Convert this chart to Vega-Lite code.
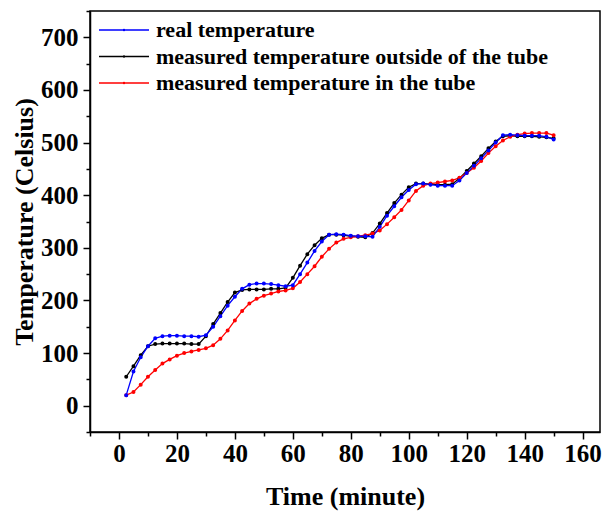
{
  "$schema": "https://vega.github.io/schema/vega-lite/v6.json",
  "width": 510,
  "height": 421,
  "autosize": {"type": "none"},
  "padding": {"left": 90, "top": 11, "right": 6, "bottom": 82},
  "background": "white",
  "config": {
    "view": {"stroke": "black", "strokeWidth": 1.5},
    "font": "Liberation Serif",
    "axis": {
      "grid": false,
      "domainColor": "black",
      "domainWidth": 1.5,
      "tickColor": "black",
      "tickWidth": 1.5,
      "labelFont": "Liberation Serif",
      "labelFontWeight": "bold",
      "labelFontSize": 25,
      "labelColor": "black",
      "titleFont": "Liberation Serif",
      "titleFontWeight": "bold",
      "titleFontSize": 26,
      "titleColor": "black"
    }
  },
  "data": {
    "values": [
      {"t": 2.5, "real temperature": 20, "measured temperature outside of the tube": 55, "measured temperature in the tube": 20},
      {"t": 5, "real temperature": 65, "measured temperature outside of the tube": 75, "measured temperature in the tube": 26},
      {"t": 7.5, "real temperature": 92, "measured temperature outside of the tube": 96, "measured temperature in the tube": 40},
      {"t": 10, "real temperature": 113, "measured temperature outside of the tube": 113, "measured temperature in the tube": 55},
      {"t": 12.5, "real temperature": 128, "measured temperature outside of the tube": 117, "measured temperature in the tube": 68},
      {"t": 15, "real temperature": 132, "measured temperature outside of the tube": 118, "measured temperature in the tube": 80},
      {"t": 17.5, "real temperature": 133, "measured temperature outside of the tube": 118, "measured temperature in the tube": 88},
      {"t": 20, "real temperature": 133, "measured temperature outside of the tube": 118, "measured temperature in the tube": 95},
      {"t": 22.5, "real temperature": 132, "measured temperature outside of the tube": 118, "measured temperature in the tube": 100},
      {"t": 25, "real temperature": 132, "measured temperature outside of the tube": 117, "measured temperature in the tube": 103},
      {"t": 27.5, "real temperature": 131, "measured temperature outside of the tube": 117, "measured temperature in the tube": 106},
      {"t": 30, "real temperature": 134, "measured temperature outside of the tube": 132, "measured temperature in the tube": 109},
      {"t": 32.5, "real temperature": 150, "measured temperature outside of the tube": 155, "measured temperature in the tube": 115},
      {"t": 35, "real temperature": 170, "measured temperature outside of the tube": 176, "measured temperature in the tube": 127},
      {"t": 37.5, "real temperature": 190, "measured temperature outside of the tube": 197, "measured temperature in the tube": 143},
      {"t": 40, "real temperature": 207, "measured temperature outside of the tube": 215, "measured temperature in the tube": 162},
      {"t": 42.5, "real temperature": 222, "measured temperature outside of the tube": 220, "measured temperature in the tube": 180},
      {"t": 45, "real temperature": 230, "measured temperature outside of the tube": 221, "measured temperature in the tube": 194},
      {"t": 47.5, "real temperature": 232, "measured temperature outside of the tube": 221, "measured temperature in the tube": 203},
      {"t": 50, "real temperature": 232, "measured temperature outside of the tube": 221, "measured temperature in the tube": 209},
      {"t": 52.5, "real temperature": 231, "measured temperature outside of the tube": 222, "measured temperature in the tube": 213},
      {"t": 55, "real temperature": 229, "measured temperature outside of the tube": 222, "measured temperature in the tube": 217},
      {"t": 57.5, "real temperature": 227, "measured temperature outside of the tube": 224, "measured temperature in the tube": 219},
      {"t": 60, "real temperature": 229, "measured temperature outside of the tube": 243, "measured temperature in the tube": 223},
      {"t": 62.5, "real temperature": 250, "measured temperature outside of the tube": 266, "measured temperature in the tube": 235},
      {"t": 65, "real temperature": 272, "measured temperature outside of the tube": 288, "measured temperature in the tube": 250},
      {"t": 67.5, "real temperature": 294, "measured temperature outside of the tube": 305, "measured temperature in the tube": 265},
      {"t": 70, "real temperature": 312, "measured temperature outside of the tube": 318, "measured temperature in the tube": 283},
      {"t": 72.5, "real temperature": 325, "measured temperature outside of the tube": 325, "measured temperature in the tube": 298},
      {"t": 75, "real temperature": 326, "measured temperature outside of the tube": 325, "measured temperature in the tube": 310},
      {"t": 77.5, "real temperature": 325, "measured temperature outside of the tube": 324, "measured temperature in the tube": 317},
      {"t": 80, "real temperature": 323, "measured temperature outside of the tube": 322, "measured temperature in the tube": 320},
      {"t": 82.5, "real temperature": 322, "measured temperature outside of the tube": 321, "measured temperature in the tube": 322},
      {"t": 85, "real temperature": 322, "measured temperature outside of the tube": 320, "measured temperature in the tube": 324},
      {"t": 87.5, "real temperature": 321, "measured temperature outside of the tube": 328, "measured temperature in the tube": 327},
      {"t": 90, "real temperature": 340, "measured temperature outside of the tube": 346, "measured temperature in the tube": 333},
      {"t": 92.5, "real temperature": 361, "measured temperature outside of the tube": 366, "measured temperature in the tube": 345},
      {"t": 95, "real temperature": 379, "measured temperature outside of the tube": 385, "measured temperature in the tube": 358},
      {"t": 97.5, "real temperature": 396, "measured temperature outside of the tube": 401, "measured temperature in the tube": 372},
      {"t": 100, "real temperature": 410, "measured temperature outside of the tube": 415, "measured temperature in the tube": 390},
      {"t": 102.5, "real temperature": 421, "measured temperature outside of the tube": 422, "measured temperature in the tube": 408},
      {"t": 105, "real temperature": 422, "measured temperature outside of the tube": 422, "measured temperature in the tube": 418},
      {"t": 107.5, "real temperature": 420, "measured temperature outside of the tube": 421, "measured temperature in the tube": 422},
      {"t": 110, "real temperature": 418, "measured temperature outside of the tube": 420, "measured temperature in the tube": 424},
      {"t": 112.5, "real temperature": 418, "measured temperature outside of the tube": 420, "measured temperature in the tube": 426},
      {"t": 115, "real temperature": 418, "measured temperature outside of the tube": 421, "measured temperature in the tube": 428},
      {"t": 117.5, "real temperature": 428, "measured temperature outside of the tube": 432, "measured temperature in the tube": 433},
      {"t": 120, "real temperature": 442, "measured temperature outside of the tube": 446, "measured temperature in the tube": 442},
      {"t": 122.5, "real temperature": 456, "measured temperature outside of the tube": 460, "measured temperature in the tube": 452},
      {"t": 125, "real temperature": 470, "measured temperature outside of the tube": 474, "measured temperature in the tube": 465},
      {"t": 127.5, "real temperature": 485, "measured temperature outside of the tube": 489, "measured temperature in the tube": 480},
      {"t": 130, "real temperature": 500, "measured temperature outside of the tube": 502, "measured temperature in the tube": 493},
      {"t": 132.5, "real temperature": 514, "measured temperature outside of the tube": 512, "measured temperature in the tube": 504},
      {"t": 135, "real temperature": 515, "measured temperature outside of the tube": 513, "measured temperature in the tube": 511},
      {"t": 137.5, "real temperature": 514, "measured temperature outside of the tube": 512, "measured temperature in the tube": 515},
      {"t": 140, "real temperature": 513, "measured temperature outside of the tube": 512, "measured temperature in the tube": 517},
      {"t": 142.5, "real temperature": 513, "measured temperature outside of the tube": 512, "measured temperature in the tube": 518},
      {"t": 145, "real temperature": 513, "measured temperature outside of the tube": 511, "measured temperature in the tube": 518},
      {"t": 147.5, "real temperature": 511, "measured temperature outside of the tube": 510, "measured temperature in the tube": 518},
      {"t": 150, "real temperature": 506, "measured temperature outside of the tube": 508, "measured temperature in the tube": 514}
    ]
  },
  "transform": [
    {"fold": ["measured temperature outside of the tube", "measured temperature in the tube", "real temperature"], "as": ["series", "value"]}
  ],
  "encoding": {
    "x": {
      "field": "t",
      "type": "quantitative",
      "scale": {"domain": [-10, 166], "nice": false, "zero": false},
      "axis": {
        "title": "Time (minute)",
        "values": [-10, 0, 10, 20, 30, 40, 50, 60, 70, 80, 90, 100, 110, 120, 130, 140, 150, 160],
        "labelExpr": "datum.value % 20 === 0 ? datum.label : ''",
        "tickSize": {"condition": {"test": "datum.value % 20 === 0", "value": 7}, "value": 4},
        "labelPadding": 2,
        "titlePadding": 17
      }
    },
    "y": {
      "field": "value",
      "type": "quantitative",
      "scale": {"domain": [-50, 750], "nice": false, "zero": false},
      "axis": {
        "title": "Temperature (Celsius)",
        "values": [-50, 0, 50, 100, 150, 200, 250, 300, 350, 400, 450, 500, 550, 600, 650, 700, 750],
        "labelExpr": "datum.value % 100 === 0 ? datum.label : ''",
        "tickSize": {"condition": {"test": "datum.value % 100 === 0", "value": 7}, "value": 4},
        "labelPadding": 5,
        "titlePadding": 3
      }
    },
    "color": {
      "field": "series",
      "type": "nominal",
      "scale": {
        "domain": ["real temperature", "measured temperature outside of the tube", "measured temperature in the tube"],
        "range": ["#0000ff", "#000000", "#ff0000"]
      },
      "legend": {
        "title": null,
        "orient": "none",
        "legendX": 43,
        "legendY": 8,
        "padding": 0,
        "symbolType": "M-9,0H1M-4.1,0a0.1,0.1 0 1,0 0.2,0a0.1,0.1 0 1,0 -0.2,0",
        "symbolSize": 100,
        "symbolStrokeWidth": 1.5,
        "labelFont": "Liberation Serif",
        "labelFontWeight": "bold",
        "labelFontSize": 22,
        "labelColor": "black",
        "labelOffset": 1,
        "labelLimit": 500,
        "rowPadding": 4.5
      }
    }
  },
  "layer": [
    {"mark": {"type": "line", "strokeWidth": 1.3}},
    {"mark": {"type": "point", "filled": false, "size": 4, "strokeWidth": 2, "opacity": 1}}
  ]
}
